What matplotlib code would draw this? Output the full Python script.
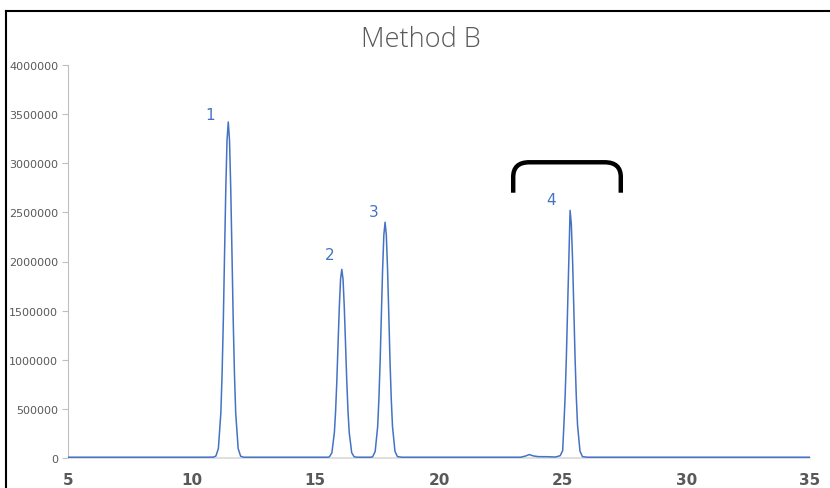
import matplotlib
matplotlib.use("Agg")
import matplotlib.pyplot as plt
from matplotlib.path import Path
from matplotlib.patches import PathPatch
from matplotlib.lines import Line2D

# retention time (min) and detector signal
time = [5.0, 10.5, 10.88, 10.98, 11.08, 11.18, 11.23, 11.28, 11.33, 11.38, 11.43,
        11.48, 11.53, 11.58, 11.63, 11.68, 11.73, 11.78, 11.88, 11.98, 12.1,
        15.5, 15.57, 15.67, 15.77, 15.82, 15.87, 15.92, 15.97, 16.02, 16.07,
        16.12, 16.17, 16.22, 16.27, 16.32, 16.37, 16.47, 16.57, 16.7,
        17.25, 17.32, 17.42, 17.52, 17.57, 17.62, 17.67, 17.72, 17.77, 17.82,
        17.87, 17.92, 17.97, 18.02, 18.07, 18.12, 18.22, 18.32, 18.5,
        23.3, 23.5, 23.65, 23.8, 24.0, 24.4, 24.7, 24.8,
        24.9, 25.0, 25.05, 25.1, 25.15, 25.2, 25.25, 25.3,
        25.35, 25.4, 25.45, 25.5, 25.55, 25.6, 25.7, 25.8, 26.0, 35.0]
signal = [8000, 8000, 9000, 20000, 96000, 460000, 855000, 1400000, 2080000, 2740000, 3235000,
          3420000, 3235000, 2740000, 2080000, 1400000, 855000, 460000, 96000, 18000, 8000,
          8000, 12000, 54000, 260000, 480000, 790000, 1170000, 1540000, 1820000, 1920000,
          1820000, 1540000, 1170000, 790000, 480000, 260000, 54000, 12000, 8000,
          8000, 14000, 67000, 320000, 600000, 980000, 1460000, 1920000, 2270000, 2400000,
          2270000, 1920000, 1460000, 980000, 600000, 320000, 67000, 14000, 8000,
          8000, 20000, 35000, 22000, 14000, 13000, 10000, 16000,
          24000, 75000, 340000, 630000, 1030000, 1530000, 2020000, 2520000,
          2380000, 2020000, 1530000, 1030000, 630000, 340000, 70000, 14000, 8000, 8000]

peak_labels = ["1", "2", "3", "4"]
label_x = [10.75, 15.6, 17.35, 24.55]
label_y = [3500000, 2070000, 2510000, 2630000]

# bracket over peak 4 region
bracket_left, bracket_right = 23.0, 27.35
bracket_low, bracket_top = 2700000, 3010000

fig = plt.figure(figsize=(8.3, 4.89), dpi=100)
ax = fig.add_axes([68 / 830, 1 - 459 / 489, (810 - 68) / 830, (459 - 66) / 489])

ax.plot(time, signal, color="#4472C4", lw=1.1, zorder=3)

for t, lx, ly in zip(peak_labels, label_x, label_y):
    ax.text(lx, ly, t, color="#4472C4", fontsize=11, ha="center", va="center")

# rounded bracket
rx, ry = 0.65, 150000
verts = [(bracket_left, bracket_low), (bracket_left, bracket_top - ry),
         (bracket_left, bracket_top), (bracket_left + rx, bracket_top),
         (bracket_right - rx, bracket_top),
         (bracket_right, bracket_top), (bracket_right, bracket_top - ry),
         (bracket_right, bracket_low)]
codes = [Path.MOVETO, Path.LINETO, Path.CURVE3, Path.CURVE3, Path.LINETO,
         Path.CURVE3, Path.CURVE3, Path.LINETO]
ax.add_patch(PathPatch(Path(verts, codes), fill=False, lw=3.2, color="black",
                       capstyle="butt", zorder=4))

ax.set_xlim(5, 35)
ax.set_ylim(0, 4000000)
ax.set_xticks([5, 10, 15, 20, 25, 30, 35])
ax.set_yticks(range(0, 4000001, 500000))
ax.set_yticklabels([str(v) for v in range(0, 4000001, 500000)])

for s in ["top", "right"]:
    ax.spines[s].set_visible(False)
ax.spines["left"].set_color("#bfbfbf")
ax.spines["bottom"].set_color("#d9d9d9")
ax.spines["bottom"].set_linewidth(1.2)
ax.tick_params(axis="y", length=4, color="#bfbfbf", labelsize=8,
               labelcolor="#595959", pad=3)
ax.tick_params(axis="x", length=0, labelsize=11, labelcolor="#595959", pad=10)
for lab in ax.get_xticklabels():
    lab.set_fontweight("bold")

fig.text(421 / 830, 1 - 40 / 489, "Method B", fontsize=19.5, color="#595959",
         ha="center", va="center", fontfamily="Open Sans", fontweight="light")

# outer chart border
fig.add_artist(Line2D([6 / 830, 6 / 830], [0, 1 - 12 / 489], color="black", lw=1.5))
fig.add_artist(Line2D([6 / 830, 1], [1 - 12 / 489, 1 - 12 / 489], color="black", lw=1.5))

fig.savefig("out.png", dpi=100)
